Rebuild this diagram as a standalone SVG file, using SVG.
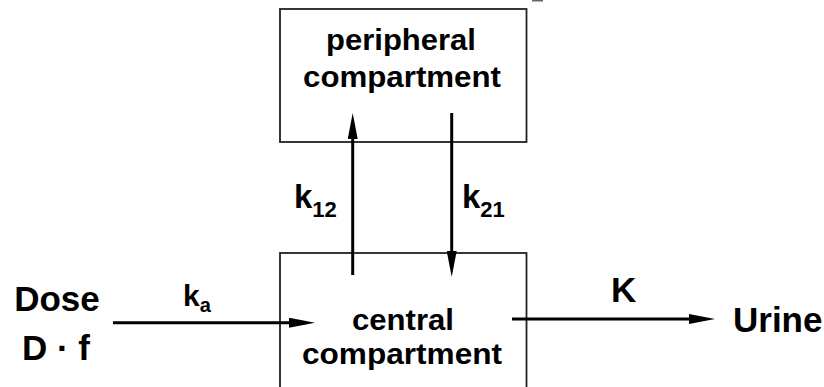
<svg xmlns="http://www.w3.org/2000/svg" width="824" height="387" viewBox="0 0 824 387">
<style>
.box{fill:#fff;stroke:#222;stroke-width:1.8}
.lbl{font-family:"Liberation Sans",Arial,sans-serif;font-weight:bold;fill:#000}
.c{font-size:30px;text-anchor:middle}
.big{font-size:35px}
.k{font-size:33px}
.sub{font-size:22px}
.arr{stroke:#000;stroke-width:3;fill:none;marker-end:url(#ah)}
</style>
<defs>
<marker id="ah" markerUnits="userSpaceOnUse" viewBox="0 0 26 10" refX="16" refY="5" markerWidth="26" markerHeight="10" orient="auto">
<path d="M0,0 L26,5 L0,10 Z" fill="#000"/>
</marker>
</defs>
<rect x="532" y="0" width="11" height="1.5" fill="#666"/>
<g id="peripheral">
<rect class="box" x="280" y="9" width="246.5" height="133"/>
<text class="lbl c" x="401" y="50" textLength="150" lengthAdjust="spacingAndGlyphs">peripheral</text>
<text class="lbl c" x="402" y="87" textLength="198" lengthAdjust="spacingAndGlyphs">compartment</text>
</g>
<g id="central">
<rect class="box" x="280" y="253" width="246.5" height="160"/>
<text class="lbl c" x="403" y="330" textLength="102" lengthAdjust="spacingAndGlyphs">central</text>
<text class="lbl c" x="402" y="364" textLength="200" lengthAdjust="spacingAndGlyphs">compartment</text>
</g>
<g id="dose">
<text class="lbl big" x="57" y="311" text-anchor="middle">Dose</text>
<text class="lbl big" x="56" y="360" text-anchor="middle">D · f</text>
</g>
<g id="urine">
<text class="lbl big" x="733" y="332">Urine</text>
</g>
<g id="connectors">
<line class="arr" x1="113" y1="322.7" x2="305" y2="322.7"/>
<line class="arr" x1="512" y1="319" x2="705" y2="319"/>
<line class="arr" x1="352.7" y1="275" x2="352.7" y2="123"/>
<line class="arr" x1="451.7" y1="113" x2="451.7" y2="267"/>
<text class="lbl" x="183" y="306" font-size="30">k<tspan font-size="20" dy="5.5">a</tspan></text>
<text class="lbl k" x="294" y="208">k<tspan class="sub" dy="8.5">12</tspan></text>
<text class="lbl k" x="462" y="208">k<tspan class="sub" dy="8.5">21</tspan></text>
<text class="lbl big" x="611" y="302">K</text>
</g>
</svg>
